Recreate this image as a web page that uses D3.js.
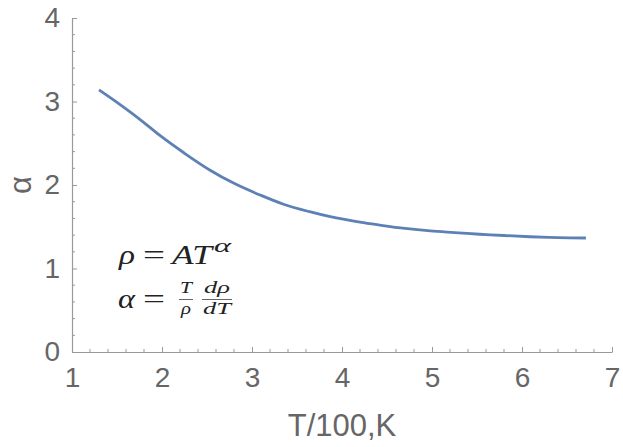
<!DOCTYPE html>
<html>
<head>
<meta charset="utf-8">
<script src="https://cdn.jsdelivr.net/npm/d3@7"></script>
<style>
  body { margin: 0; background: #fff; }
  svg { display: block; }
</style>
</head>
<body>
<div id="chart"></div>
<script>
// curve (T/100 K -> alpha)
var tVals = [1.30, 1.50, 1.75, 1.98, 2.25, 2.53, 2.80, 3.09, 3.35, 3.64, 3.87, 4.20, 4.42, 4.70, 4.98, 5.25, 5.53, 5.80, 6.09, 6.40, 6.71];
var alphaVals = [3.14, 2.99, 2.79, 2.59, 2.38, 2.18, 2.02, 1.88, 1.77, 1.68, 1.62, 1.555, 1.52, 1.48, 1.45, 1.43, 1.41, 1.395, 1.38, 1.37, 1.365];
var xTicks = [1, 2, 3, 4, 5, 6, 7];
var yTicks = [0, 1, 2, 3, 4];

var width = 623, height = 447;
var margin = {top: 18, right: 11, bottom: 95, left: 72};

var svg = d3.select("#chart").append("svg")
  .attr("width", width)
  .attr("height", height);

var x = d3.scaleLinear().domain([1, 7]).range([margin.left, width - margin.right]);
var y = d3.scaleLinear().domain([0, 4]).range([height - margin.bottom, margin.top]);

var axisColor = "#999";
var textColor = "#666";
var sans = "'Liberation Sans', Arial, sans-serif";
var serif = "'Liberation Serif', 'Times New Roman', serif";

// minor ticks every 0.2
var xMinor = d3.range(1, 7.001, 0.2).filter(function(d) { return Math.abs(d - Math.round(d)) > 0.01; });
var yMinor = d3.range(0, 4.001, 0.2).filter(function(d) { return Math.abs(d - Math.round(d)) > 0.01; });

// x axis
var xAxis = svg.append("g")
  .attr("transform", "translate(0," + y(0) + ")")
  .call(d3.axisBottom(x).tickValues(xTicks).tickSizeInner(-5).tickSizeOuter(0).tickPadding(15).tickFormat(d3.format("d")));
xAxis.select(".domain").attr("stroke", axisColor).attr("stroke-width", 1.2);
xAxis.selectAll(".tick line").attr("stroke", axisColor);
xAxis.selectAll(".tick text")
  .attr("fill", textColor)
  .style("font-family", sans)
  .style("font-size", "28px");
xAxis.selectAll(".minor").data(xMinor).enter().append("line")
  .attr("x1", function(d) { return x(d); })
  .attr("x2", function(d) { return x(d); })
  .attr("y1", 0).attr("y2", -3)
  .attr("stroke", axisColor);

// y axis
var yAxis = svg.append("g")
  .attr("transform", "translate(" + x(1) + ",0)")
  .call(d3.axisLeft(y).tickValues(yTicks).tickSizeInner(-5).tickSizeOuter(0).tickPadding(12).tickFormat(d3.format("d")));
yAxis.select(".domain").attr("stroke", axisColor).attr("stroke-width", 1.2);
yAxis.selectAll(".tick line").attr("stroke", axisColor);
yAxis.selectAll(".tick text")
  .attr("fill", textColor)
  .style("font-family", sans)
  .style("font-size", "28px");
yAxis.selectAll(".minor").data(yMinor).enter().append("line")
  .attr("x1", 0).attr("x2", 3)
  .attr("y1", function(d) { return y(d); })
  .attr("y2", function(d) { return y(d); })
  .attr("stroke", axisColor);

// axis titles
svg.append("text")
  .attr("x", x(4))
  .attr("y", 436)
  .attr("text-anchor", "middle")
  .attr("fill", textColor)
  .style("font-family", sans)
  .style("font-size", "31px")
  .text("T/100,K");

svg.append("text")
  .attr("transform", "translate(31," + y(2) + ") rotate(-90)")
  .attr("text-anchor", "middle")
  .attr("fill", textColor)
  .style("font-family", sans)
  .style("font-size", "31px")
  .text("α");

// the curve
var pts = tVals.map(function(t, i) { return [t, alphaVals[i]]; });
var line = d3.line()
  .x(function(d) { return x(d[0]); })
  .y(function(d) { return y(d[1]); })
  .curve(d3.curveCatmullRom.alpha(0.5));

svg.append("path")
  .datum(pts)
  .attr("d", line)
  .attr("fill", "none")
  .attr("stroke", "#5e81b5")
  .attr("stroke-width", 2.8);

// formulas
var formula = svg.append("g")
  .attr("fill", "#222")
  .style("font-family", serif);

// txt, left x, baseline, font size, target width, upright?
function put(txt, px, py, size, w, upright) {
  formula.append("text")
    .attr("x", px).attr("y", py)
    .attr("textLength", w)
    .attr("lengthAdjust", "spacingAndGlyphs")
    .style("font-size", size + "px")
    .style("font-style", upright ? "normal" : "italic")
    .text(txt);
}

// rho = A T^alpha
put("ρ", 119, 264, 27, 16);
put("=", 143, 264, 27, 22, true);
put("AT", 172, 264, 27, 40);
put("α", 214, 252, 18, 17);

// alpha = T/rho drho/dT
put("α", 118, 308, 27, 17);
put("=", 143, 308, 27, 22, true);
put("T", 180, 293, 17, 12);
put("ρ", 181, 314, 17, 10);
put("dρ", 204, 293, 17, 26);
put("dT", 203, 314, 17, 28);
formula.append("line").attr("x1", 179).attr("x2", 193).attr("y1", 299.5).attr("y2", 299.5)
  .attr("stroke", "#222").attr("stroke-width", 0.7);
formula.append("line").attr("x1", 202).attr("x2", 232).attr("y1", 299.5).attr("y2", 299.5)
  .attr("stroke", "#222").attr("stroke-width", 0.7);
</script>
</body>
</html>
